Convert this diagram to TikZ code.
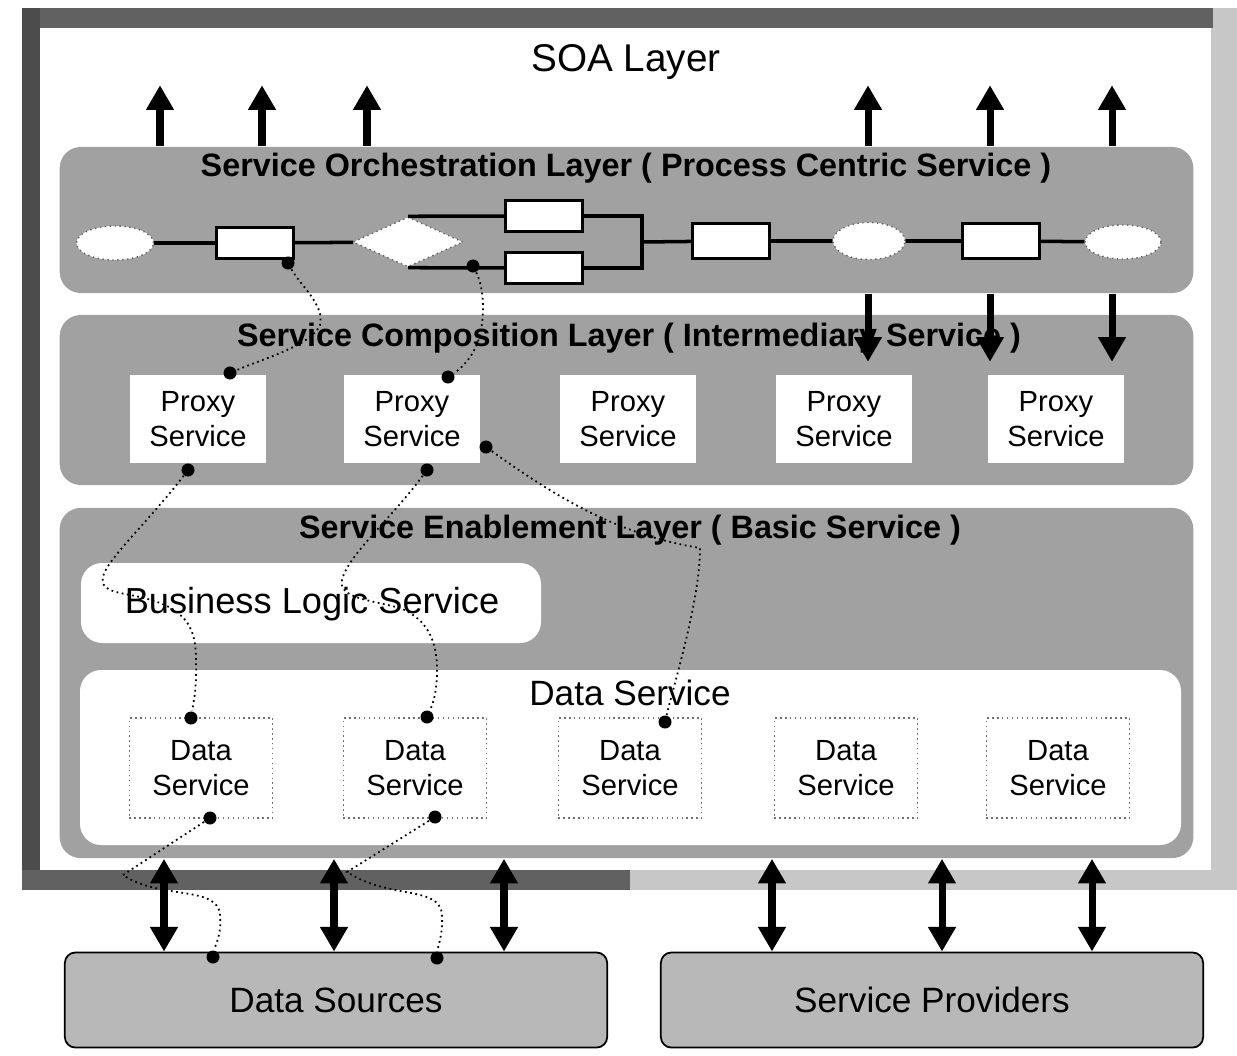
\documentclass[tikz,border=0pt]{standalone}
\usepackage{fontspec}
\setmainfont{Liberation Sans}
\usetikzlibrary{arrows.meta,shapes.geometric,positioning}

\tikzset{
  layer/.style={fill=black!37,rounded corners=6pt,inner sep=0pt},
  titletext/.style={font=\bfseries\fontsize{9.2}{11}\selectfont},
  flowbox/.style={draw=black,line width=0.6pt,fill=white,inner sep=0pt,
    minimum width=0.77cm,minimum height=0.31cm},
  flowoval/.style={ellipse,draw=black!60,densely dotted,fill=white,inner sep=0pt,
    minimum width=0.77cm,minimum height=0.34cm},
  flowline/.style={line width=1pt},
  proxybox/.style={fill=white,inner sep=0pt,minimum width=1.35cm,minimum height=0.88cm,
    align=center,font=\fontsize{8.3}{10}\selectfont},
  databox/.style={draw=black!55,densely dotted,fill=white,inner sep=0pt,
    minimum width=1.43cm,minimum height=1cm,align=center,font=\fontsize{8.3}{10}\selectfont},
  tie/.style={circle,fill=black,inner sep=0pt,minimum size=0.13cm},
  wire/.style={densely dotted,line width=0.5pt},
  bigup/.style={line width=2pt,-{Triangle[length=7pt,width=7.5pt]}},
  bigboth/.style={line width=2pt,{Triangle[length=7pt,width=7.5pt]}-{Triangle[length=7pt,width=7.5pt]}},
  sourcebox/.style={draw=black,line width=0.5pt,fill=black!28,rounded corners=3pt,
    minimum width=5.42cm,minimum height=0.95cm,font=\fontsize{10}{12}\selectfont}
}

\begin{document}
\begin{tikzpicture}[x=0.01cm,y=-0.01cm]
  \useasboundingbox (0,0) rectangle (1237,1055);

  %% outer SOA frame
  \fill[black!22] (22,8) rectangle (1237,890);
  \fill[black!62] (22,8) rectangle (1213,28);
  \fill[black!70] (22,8) rectangle (40,890);
  \fill[black!62] (22,870) rectangle (630,890);
  \fill[white] (40,28) rectangle (1211,870);

  \node[font=\fontsize{11}{13}\selectfont] (soa) at (626,62) {SOA Layer};

  % layers
  \node[layer,minimum width=11.33cm,minimum height=1.46cm] (orchL) at (626.5,220) {};
  \node[layer,minimum width=11.33cm,minimum height=1.70cm] (compL) at (626.5,400) {};
  \node[layer,minimum width=11.33cm,minimum height=3.50cm] (enabL) at (626.5,683) {};

  \node[titletext] (orch) at (626,168) {Service Orchestration Layer ( Process Centric Service )};
  \node[titletext] (comp) at (629,338) {Service Composition Layer ( Intermediary Service )};
  \node[titletext] (enab) at (630,530) {Service Enablement Layer ( Basic Service )};

  %% process flow
  \node[flowoval] (e1) at (115,243) {};
  \node[flowbox]  (r1) at (255,243) {};
  \node[diamond,draw=black!60,densely dotted,fill=white,inner sep=0pt,
    minimum width=1.1cm,minimum height=0.5cm] (dm) at (408,242) {};
  \node[flowbox]  (ru) at (544,216) {};
  \node[flowbox]  (rl) at (544,268) {};
  \coordinate (jn) at (642,242);
  \node[flowbox,minimum height=0.35cm]  (r2) at (731,241) {};
  \node[flowoval,minimum width=0.72cm,minimum height=0.37cm] (e2) at (869,241) {};
  \node[flowbox,minimum height=0.35cm]  (r3) at (1001,241) {};
  \node[flowoval,minimum width=0.76cm] (e3) at (1123,242) {};

  \draw[flowline] (e1) -- (r1) -- (dm);
  \draw[flowline] (dm.north) -- (ru);
  \draw[flowline] (dm.south) -- (rl);
  \draw[flowline] (ru.east) -- (jn |- ru.east) -- (jn |- rl.east) -- (rl.east);
  \draw[flowline] (jn) -- (r2) -- (e2) -- (r3) -- (e3);

  % arrows out of and into the orchestration layer
  \foreach \x in {160,262,367,868,990,1112}
    \draw[bigup] (orchL.north -| \x,0) -- +(0,-61);
  \foreach \x in {868,990,1112}
    \draw[bigup] (orchL.south -| \x,0) -- +(0,68);

  %% composition layer
  \foreach \x [count=\i] in {198,412,628,844,1056}
    \node[proxybox] (p\i) at (\x,419) {Proxy\\Service};

  %% enablement layer
  \fill[white,rounded corners=6pt] (81,563) rectangle (541,643);
  \node[font=\fontsize{10.3}{12}\selectfont] (bls) at (312,604) {Business Logic Service};
  \fill[white,rounded corners=6pt] (80,670) rectangle (1181,845);
  \node[font=\fontsize{10}{12}\selectfont] (dsl) at (630,693) {Data Service};
  \foreach \x [count=\i] in {201,415,630,846,1058}
    \node[databox] (d\i) at (\x,768) {Data\\Service};

  %% sources and providers
  \node[sourcebox] (src) at (336,1000) {Data Sources};
  \node[sourcebox] (prv) at (932,1000) {Service Providers};

  \foreach \x in {164,334,504}
    \draw[bigboth] (enabL.south -| \x,0) -- (src.north -| \x,0);
  \foreach \x in {772,942,1092}
    \draw[bigboth] (enabL.south -| \x,0) -- (prv.north -| \x,0);

  % ties between services
  \node[tie] (t1) at (288,263) {};
  \node[tie] (t2) at (473,266) {};
  \node[tie] (p1n) at (230,373) {};
  \node[tie] (p2n) at (448,377) {};
  \node[tie] (p1s) at (188,470) {};
  \node[tie] (p2s) at (427,470) {};
  \node[tie] (p2e) at (486,447) {};
  \node[tie] (d1n) at (191,718) {};
  \node[tie] (d2n) at (427,717) {};
  \node[tie] (d3n) at (665,722) {};
  \node[tie] (d1s) at (210,818) {};
  \node[tie] (d2s) at (435,817) {};
  \node[tie] (s1) at (213,957) {};
  \node[tie] (s2) at (437,958) {};

  \draw[wire] (t1) .. controls (300,285) and (325,305) .. (320,325)
    .. controls (312,345) and (265,358) .. (p1n);
  \draw[wire] (t2) .. controls (485,290) and (484,318) .. (480,335)
    .. controls (475,355) and (462,368) .. (p2n);
  \draw[wire] (p1s) .. controls (150,520) and (106,560) .. (103,577)
    .. controls (100,590) and (115,592) .. (130,595)
    .. controls (185,605) and (196,625) .. (196,660)
    .. controls (197,690) and (193,705) .. (d1n);
  \draw[wire] (p2s) .. controls (390,520) and (348,555) .. (342,580)
    .. controls (338,598) and (370,600) .. (400,608)
    .. controls (430,620) and (438,645) .. (437,675)
    .. controls (436,700) and (430,710) .. (d2n);
  \draw[wire] (p2e) .. controls (560,500) and (620,535) .. (700,548)
    .. controls (700,600) and (675,680) .. (d3n);
  \draw[wire] (d1s) -- (123,875) .. controls (160,900) and (218,885) .. (220,915)
    .. controls (222,935) and (215,945) .. (s1);
  \draw[wire] (d2s) -- (347,872) .. controls (390,900) and (440,885) .. (442,915)
    .. controls (443,935) and (438,945) .. (s2);

\end{tikzpicture}
\end{document}
